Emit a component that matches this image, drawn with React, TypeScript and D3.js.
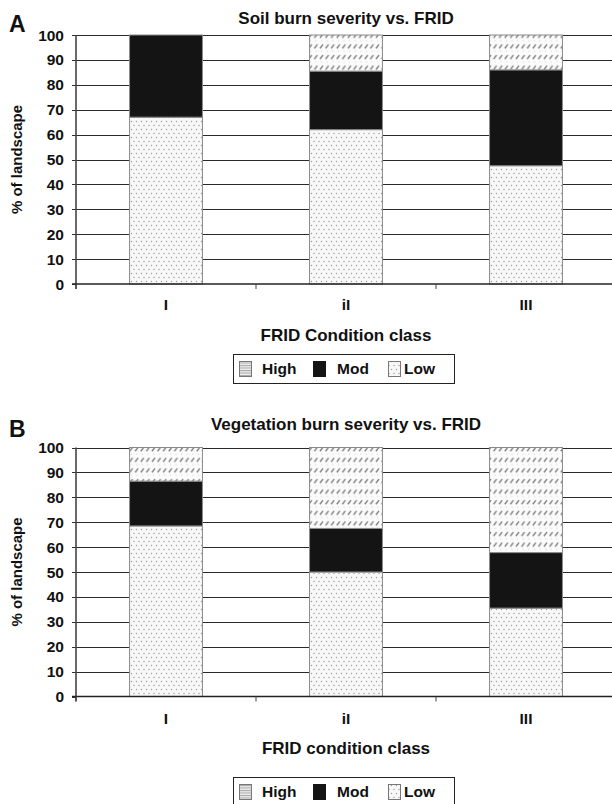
import React from "react";
import * as d3 from "d3";

const categories = ["I", "iI", "III"];
const seriesKeys = ["Low", "Mod", "High"];
const legendKeys = ["High", "Mod", "Low"];
const yTicks = [0, 10, 20, 30, 40, 50, 60, 70, 80, 90, 100];

const soilLow = [67, 62, 47.5];
const soilMod = [33, 23.5, 38.5];
const soilHigh = [0, 14.5, 14];

const vegLow = [68.5, 50, 35.5];
const vegMod = [18, 17.5, 22.3];
const vegHigh = [13.5, 32.5, 42.2];

const panels = [
  { letter: "A", title: "Soil burn severity vs. FRID", xTitle: "FRID Condition class", low: soilLow, mod: soilMod, high: soilHigh, top: 35, bottom: 284, titleY: 24, letterY: 32, catY: 309.5, xTitleY: 341, legendTop: 354 },
  { letter: "B", title: "Vegetation burn severity vs. FRID", xTitle: "FRID condition class", low: vegLow, mod: vegMod, high: vegHigh, top: 447.5, bottom: 696.5, titleY: 430, letterY: 437, catY: 723.5, xTitleY: 754, legendTop: 777 },
];

const FONT = "'Liberation Sans', Arial, Helvetica, sans-serif";
const fills: Record<string, string> = { Low: "url(#lowDots)", Mod: "#141414", High: "url(#highHatch)" };
const legendFills: Record<string, string> = { Low: "url(#lowDots)", Mod: "#141414", High: "url(#highLegend)" };

function Panel({ p }: { p: typeof panels[number] }) {
  const x = d3.scaleBand<string>().domain(categories).range([76, 616]).paddingInner(0.595).paddingOuter(0.2975);
  const y = d3.scaleLinear().domain([0, 100]).range([p.bottom, p.top]);
  const rows = categories.map((c, i) => ({ cat: c, Low: p.low[i], Mod: p.mod[i], High: p.high[i] }));
  const stacked = d3.stack<any>().keys(seriesKeys)(rows);
  const step = x.step();
  const boundaries = d3.range(categories.length + 1).map((i) => 76 + i * step);
  const midX = (76 + 616) / 2;
  const midY = (p.top + p.bottom) / 2;

  const legX = 233, legW = 221, legH = 29;
  const itemX = [239, 313, 388];
  const textX = [262, 337, 404];

  return (
    <g fontFamily={FONT} fontWeight="bold" fill="#111">
      <text x={9} y={p.letterY} fontSize={23}>{p.letter}</text>
      <text x={midX} y={p.titleY} fontSize={17} textAnchor="middle">{p.title}</text>
      {yTicks.filter((t) => t > 0).map((t) => (
        <line key={t} x1={76} x2={616} y1={Math.round(y(t)) + 0.5} y2={Math.round(y(t)) + 0.5} stroke="#2a2a2a" strokeWidth={1} />
      ))}
      {yTicks.map((t) => (
        <g key={"yt" + t}>
          <line x1={72} x2={76} y1={Math.round(y(t)) + 0.5} y2={Math.round(y(t)) + 0.5} stroke="#333" />
          <text x={64} y={y(t)} dy="0.36em" fontSize={15.5} textAnchor="end">{t}</text>
        </g>
      ))}
      {stacked.map((s) => (
        <g key={s.key}>
          {s.map((d, i) => {
            const h = y(d[0]) - y(d[1]);
            if (h <= 0) return null;
            return (
              <rect key={i} x={x(categories[i])!} y={y(d[1])} width={x.bandwidth()} height={h}
                fill={fills[s.key]} stroke="#8a8a8a" strokeWidth={1} />
            );
          })}
        </g>
      ))}
      <line x1={76} x2={76} y1={p.top} y2={p.bottom + 5} stroke="#444" strokeWidth={1.6} />
      <line x1={72} x2={616} y1={p.bottom} y2={p.bottom} stroke="#222" strokeWidth={1.5} />
      {boundaries.map((b, i) => (
        <line key={"xb" + i} x1={b} x2={b} y1={p.bottom} y2={p.bottom + 5} stroke="#444" strokeWidth={1} />
      ))}
      {categories.map((c) => (
        <text key={c} x={x(c)! + x.bandwidth() / 2} y={p.catY} fontSize={15.5} textAnchor="middle">{c}</text>
      ))}
      <text x={midX} y={p.xTitleY} fontSize={17} textAnchor="middle">{p.xTitle}</text>
      <text transform={`translate(21.5,${midY}) rotate(-90)`} fontSize={15} textAnchor="middle">% of landscape</text>
      <rect x={legX + 0.5} y={p.legendTop + 0.5} width={legW} height={legH} fill="#fff" stroke="#222" strokeWidth={1} />
      {legendKeys.map((k, i) => (
        <g key={k}>
          <rect x={itemX[i] + 0.5} y={p.legendTop + 7.5} width={12} height={15} fill={legendFills[k]} stroke={k === "Mod" ? "#141414" : "#777"} strokeWidth={1} />
          <text x={textX[i]} y={p.legendTop + 20} fontSize={15.5}>{k}</text>
        </g>
      ))}
    </g>
  );
}

export default function App() {
  return (
    <svg width={612} height={804} style={{ position: "absolute", left: 0, top: 0, background: "#fff" }}>
      <defs>
        <pattern id="lowDots" patternUnits="userSpaceOnUse" width={5} height={8}>
          <rect width={5} height={8} fill="#f8f8f8" />
          <circle cx={1.5} cy={1.5} r={0.7} fill="#9a9a9a" />
          <circle cx={4} cy={5.5} r={0.7} fill="#9a9a9a" />
        </pattern>
        <pattern id="highHatch" patternUnits="userSpaceOnUse" width={5.6} height={10.6}>
          <rect width={5.6} height={10.6} fill="#fbfbfb" />
          <line x1={0.8} y1={6} x2={3.8} y2={2} stroke="#7a7a7a" strokeWidth={1.3} />
          <circle cx={2.5} cy={8.8} r={0.5} fill="#cfcfcf" />
        </pattern>
        <pattern id="highLegend" patternUnits="userSpaceOnUse" width={4} height={2.5}>
          <rect width={4} height={2.5} fill="#ececec" />
          <line x1={0} x2={4} y1={0.5} y2={0.5} stroke="#a8a8a8" strokeWidth={1} />
        </pattern>
      </defs>
      {panels.map((p) => (
        <Panel key={p.letter} p={p} />
      ))}
    </svg>
  );
}
